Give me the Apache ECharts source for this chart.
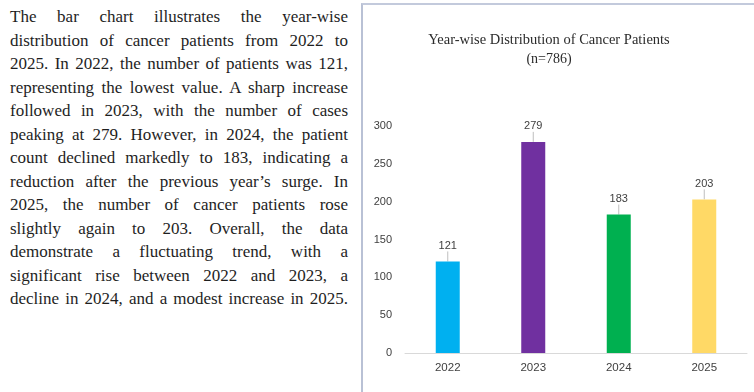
<!DOCTYPE html>
<html>
<head>
<meta charset="utf-8">
<script src="https://cdn.jsdelivr.net/npm/echarts@6/dist/echarts.min.js"></script>
<style>
  html, body { margin: 0; padding: 0; background: #ffffff; }
  body { width: 754px; height: 392px; position: relative; overflow: hidden; }
  #text {
    position: absolute; left: 10px; top: 5px; width: 338px;
    font-family: "Liberation Serif", "DejaVu Serif", serif;
    font-size: 17px; line-height: 23.5px; color: #1e1e1e;
  }
  #text div { text-align: justify; text-align-last: justify; white-space: nowrap; }
  #box {
    position: absolute; left: 361px; top: 3px; width: 391px; height: 389px;
    border-left: 2px solid #b9c1d5; border-top: 2px solid #c3cadc;
  }
  #chart { width: 391px; height: 387px; }
</style>
</head>
<body>
<div id="text"></div>
<div id="box"><div id="chart"></div></div>
<script>
// Paragraph lines, as set in the column
const paragraphLines = [
  "The bar chart illustrates the year-wise",
  "distribution of cancer patients from 2022 to",
  "2025. In 2022, the number of patients was 121,",
  "representing the lowest value. A sharp increase",
  "followed in 2023, with the number of cases",
  "peaking at 279. However, in 2024, the patient",
  "count declined markedly to 183, indicating a",
  "reduction after the previous year\u2019s surge. In",
  "2025, the number of cancer patients rose",
  "slightly again to 203. Overall, the data",
  "demonstrate a fluctuating trend, with a",
  "significant rise between 2022 and 2023, a",
  "decline in 2024, and a modest increase in 2025."
];

// Chart data
const chartTitle = "Year-wise Distribution of Cancer Patients";
const chartSubtitle = "(n=786)";
const years = ["2022", "2023", "2024", "2025"];
const patients = [121, 279, 183, 203];
const barColors = ["#00b0f0", "#7030a0", "#00b050", "#ffd966"];

const textEl = document.getElementById("text");
paragraphLines.forEach(function (line) {
  const d = document.createElement("div");
  d.textContent = line;
  textEl.appendChild(d);
});

const chart = echarts.init(document.getElementById("chart"), null, { renderer: "canvas" });
chart.setOption({
  backgroundColor: "#ffffff",
  animation: false,
  title: [
    {
      text: chartTitle, left: 186, top: 28, textAlign: "center", padding: 0,
      textStyle: { fontFamily: "Liberation Serif", fontSize: 14.5, fontWeight: "normal", color: "#2b2b2b" }
    },
    {
      text: chartSubtitle, left: 186, top: 47, textAlign: "center", padding: 0,
      textStyle: { fontFamily: "Liberation Serif", fontSize: 14, fontWeight: "normal", color: "#2b2b2b" }
    }
  ],
  grid: { left: 42, right: 7, top: 121, bottom: 39 },
  xAxis: {
    type: "category",
    data: years,
    axisLine: { lineStyle: { color: "#d9d9d9", width: 1 } },
    axisTick: { show: false },
    axisLabel: { color: "#404040", fontFamily: "Liberation Sans", fontSize: 11.5, margin: 9 }
  },
  yAxis: {
    type: "value",
    min: 0, max: 300, interval: 50,
    axisLine: { show: false },
    axisTick: { show: false },
    splitLine: { show: false },
    axisLabel: { color: "#404040", fontFamily: "Liberation Sans", fontSize: 11, margin: 13 }
  },
  series: [{
    type: "bar",
    barWidth: 24,
    data: patients.map(function (v, i) {
      return { value: v, itemStyle: { color: barColors[i] } };
    }),
    label: {
      show: true, position: "top", distance: 4,
      color: "#404040", fontFamily: "Liberation Sans", fontSize: 11
    },
    labelLayout: { dy: -6 },
    labelLine: { show: true, lineStyle: { color: "#bfbfbf", width: 1 } }
  }]
});
</script>
</body>
</html>
